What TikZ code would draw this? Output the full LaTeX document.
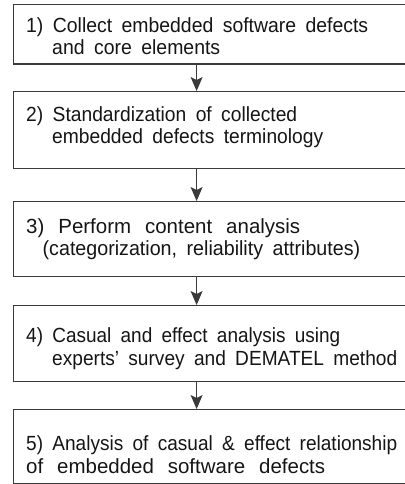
\documentclass[tikz,border=0pt]{standalone}
\usepackage{graphicx}
\usepackage{fontspec}
\setmainfont{Liberation Sans}
\usetikzlibrary{arrows.meta}

\definecolor{framegray}{HTML}{3A3A3A}
\definecolor{inkblack}{HTML}{151515}

% one line set to a given width with wide, even word gaps:
% [word gap], left indent, line width, text
\newcommand{\fitline}[4][10]{\hspace*{#2pt}%
  \resizebox{#3pt}{\height}{\spaceskip=#1pt\relax #4}}

\begin{document}
\begin{tikzpicture}[x=1pt, y=-1pt,
  stepbox/.style={draw=framegray, line width=1.2pt, rectangle, anchor=north west,
    minimum width=400pt, inner sep=0pt},
  steptext/.style={anchor=base west, inner sep=0pt, align=left,
    text=inkblack, font=\fontsize{20.5}{22.3}\selectfont},
  flow/.style={draw=framegray, line width=1.1pt,
    -{Stealth[length=14pt, width=12pt, inset=3pt]}}
]
  \useasboundingbox (0,0) rectangle (404,484);

  % frames of the five steps
  \node[stepbox, minimum height=59.5pt] (b1) at (13,4) {};
  \node[stepbox, minimum height=76.5pt] (b2) at (13,91) {};
  \node[stepbox, minimum height=75pt]   (b3) at (13,201) {};
  \node[stepbox, minimum height=76pt]   (b4) at (13,305) {};
  \node[stepbox, minimum height=74pt]   (b5) at (13,409) {};

  % step texts (placed by the baseline of their last line)
  \node[steptext] (t1) at (26,55)
    {\fitline{0}{342}{1) Collect embedded software defects}\\
     \fitline{26}{168}{and core elements}};
  \node[steptext] (t2) at (26,143.5)
    {\fitline{0}{271}{2) Standardization of collected}\\
     \fitline{26}{271}{embedded defects terminology}};
  \node[steptext] (t3) at (26,255.5)
    {\fitline[14]{0}{274}{3) Perform content analysis}\\
     \fitline{16.5}{317.5}{(categorization, reliability attributes)}};
  \node[steptext] (t4) at (26,365)
    {\fitline{0}{314}{4) Casual and effect analysis using}\\
     \fitline{26}{345}{experts' survey and DEMATEL method}};
  \node[steptext] (t5) at (26,473)
    {\fitline{0}{371}{5) Analysis of casual \& effect relationship}\\
     \fitline[14]{0}{299}{of embedded software defects}};

  % arrows between consecutive steps
  \foreach \a/\b in {b1/b2, b2/b3, b3/b4, b4/b5}
    \draw[flow] ([xshift=-17pt]\a.south) -- ([xshift=-17pt]\b.north);
\end{tikzpicture}
\end{document}
